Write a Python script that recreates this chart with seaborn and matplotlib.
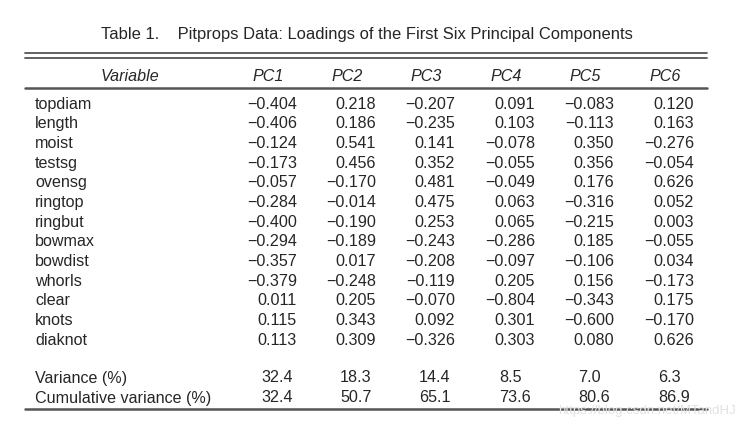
import matplotlib
matplotlib.use("Agg")
import matplotlib.pyplot as plt
import seaborn as sns

variables = ["topdiam", "length", "moist", "testsg", "ovensg", "ringtop", "ringbut",
             "bowmax", "bowdist", "whorls", "clear", "knots", "diaknot"]
columns = ["PC1", "PC2", "PC3", "PC4", "PC5", "PC6"]
pc1 = [-0.404, -0.406, -0.124, -0.173, -0.057, -0.284, -0.400, -0.294, -0.357, -0.379, 0.011, 0.115, 0.113]
pc2 = [0.218, 0.186, 0.541, 0.456, -0.170, -0.014, -0.190, -0.189, 0.017, -0.248, 0.205, 0.343, 0.309]
pc3 = [-0.207, -0.235, 0.141, 0.352, 0.481, 0.475, 0.253, -0.243, -0.208, -0.119, -0.070, 0.092, -0.326]
pc4 = [0.091, 0.103, -0.078, -0.055, -0.049, 0.063, 0.065, -0.286, -0.097, 0.205, -0.804, 0.301, 0.303]
pc5 = [-0.083, -0.113, 0.350, 0.356, 0.176, -0.316, -0.215, 0.185, -0.106, 0.156, -0.343, -0.600, 0.080]
pc6 = [0.120, 0.163, -0.276, -0.054, 0.626, 0.052, 0.003, -0.055, 0.034, -0.173, 0.175, -0.170, 0.626]
variance = [32.4, 18.3, 14.4, 8.5, 7.0, 6.3]
cumulative = [32.4, 50.7, 65.1, 73.6, 80.6, 86.9]

sns.set_theme(style="white")
plt.rcParams["font.family"] = ["Liberation Sans", "DejaVu Sans"]

fig = plt.figure(figsize=(7.4, 4.28), dpi=100)
ax = fig.add_axes([0, 0, 1, 1])
ax.set_xlim(0, 740)
ax.set_ylim(428, 0)
ax.axis("off")

fs = 11.6
line_col = "#555555"

ax.text(367, 34, "Table 1.    Pitprops Data: Loadings of the First Six Principal Components",
        ha="center", va="center", fontsize=11.9)

# rules
for y in (53, 58):
    ax.plot([25, 707], [y, y], color=line_col, lw=1.3)
ax.plot([25, 707], [88, 88], color=line_col, lw=1.8)
ax.plot([25, 707], [409, 409], color=line_col, lw=1.8)

# header
right_edges = [297, 376, 455, 535, 614, 694]
ax.text(130, 76, "Variable", ha="center", va="center", fontsize=fs, style="italic")
for name, r in zip(columns, right_edges):
    ax.text(r - 29, 76, name, ha="center", va="center", fontsize=fs, style="italic")


def fmt(v):
    s = f"{abs(v):.3f}"
    return ("\u2212" + s) if v < 0 else s


loadings = [pc1, pc2, pc3, pc4, pc5, pc6]
for i, var in enumerate(variables):
    y = 104 + i * 19.67
    ax.text(35, y, var, ha="left", va="center", fontsize=fs)
    for col, r in zip(loadings, right_edges):
        ax.text(r, y, fmt(col[i]), ha="right", va="center", fontsize=fs)

ax.text(35, 378, "Variance (%)", ha="left", va="center", fontsize=fs)
ax.text(35, 398, "Cumulative variance (%)", ha="left", va="center", fontsize=fs)
for v, c, r in zip(variance, cumulative, right_edges):
    ax.text(r - 36, 378, f"{v:.1f}", ha="left", va="center", fontsize=fs)
    ax.text(r - 36, 398, f"{c:.1f}", ha="left", va="center", fontsize=fs)

ax.text(736, 411, "https://blog.csdn.net/MTandHJ", ha="right", va="center",
        fontsize=9.5, color="#e2e2e2")

fig.savefig("out.png", dpi=100)
